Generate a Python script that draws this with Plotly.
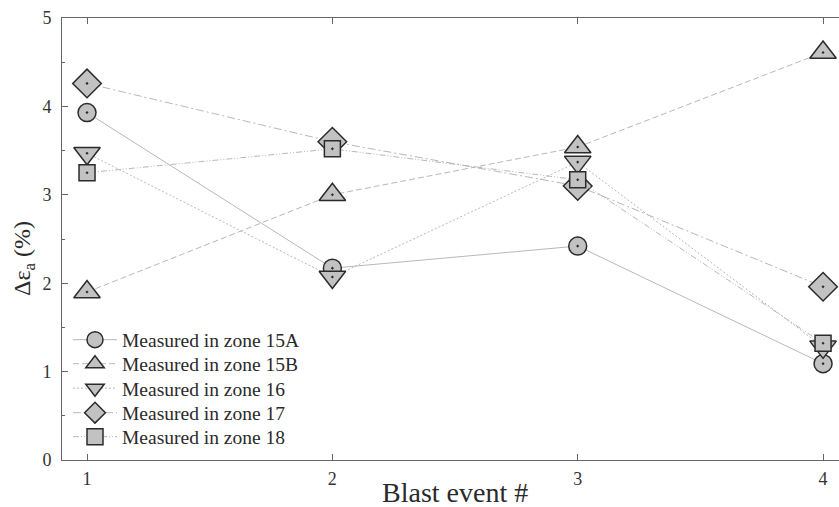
import plotly.graph_objects as go

events = [1, 2, 3, 4]
zone_15A = [3.93, 2.17, 2.42, 1.09]
zone_15B = [1.90, 3.00, 3.54, 4.61]
zone_16 = [3.47, 2.07, 3.37, 1.28]
zone_17 = [4.26, 3.60, 3.10, 1.96]
zone_18 = [3.25, 3.52, 3.17, 1.32]
names = ["Measured in zone 15A", "Measured in zone 15B", "Measured in zone 16",
         "Measured in zone 17", "Measured in zone 18"]
series = [zone_15A, zone_15B, zone_16, zone_17, zone_18]
x_title = "Blast event #"
y_title = "Δε<sub>a</sub> (%)"

symbols = ["circle", "triangle-up", "triangle-down", "diamond", "square"]
sizes = [18, 23, 23, 22, 16]
dashes = ["solid", "6px,3px", "2px,2px", "8px,3px,2px,3px", "6px,2px,1px,2px,1px,2px"]

LINE = "#b8b8b8"
FILL = "#c2c2c2"
EDGE = "#2b2b2b"
AX = "#666666"
FONT = "Liberation Serif"

W, H = 839, 507
L, R, T, B = 62, 0, 18, 47
PW, PH = W - L - R, H - T - B

fig = go.Figure()
for ys, sym, sz, dash in zip(series, symbols, sizes, dashes):
    fig.add_trace(go.Scatter(
        x=events, y=ys, mode="lines+markers", showlegend=False,
        line=dict(color=LINE, width=1, dash=dash),
        marker=dict(symbol=sym + "-dot", size=sz, color=FILL,
                    line=dict(color=EDGE, width=1.5)),
    ))

# legend rows (one legend per row for exact row spacing)
row_px = [340, 364, 388.5, 413, 437]
legend_layout = {}
for i, (name, sym, sz, dash) in enumerate(zip(names, symbols, sizes, dashes)):
    key = "legend" if i == 0 else f"legend{i + 1}"
    fig.add_trace(go.Scatter(
        x=[None], y=[None], mode="lines+markers", name=name, legend=key,
        xaxis="x2",
        line=dict(color=LINE, width=1, dash=dash),
        marker=dict(symbol=sym, size=sz, color=FILL,
                    line=dict(color=EDGE, width=1.5)),
    ))
    legend_layout[key] = dict(
        x=(68 - L) / PW, y=(H - B - row_px[i]) / PH,
        xanchor="left", yanchor="middle",
        bgcolor="rgba(0,0,0,0)", borderwidth=0, itemwidth=44,
        font=dict(family=FONT, size=19.5, color="#2a2a2a"),
    )

fig.update_layout(
    width=W, height=H,
    margin=dict(l=L, r=R, t=T, b=B),
    paper_bgcolor="white", plot_bgcolor="white",
    font=dict(family=FONT, color="#333333", size=18),
    xaxis=dict(range=[0.898, 4.065], tickvals=events, ticks="inside",
               ticklen=6, tickcolor=AX, showline=True, linecolor=AX,
               linewidth=1, showgrid=False, zeroline=False, automargin=False,
               tickfont=dict(size=18), ticklabelstandoff=2),
    xaxis2=dict(matches="x", overlaying="x", side="top", tickvals=events,
                ticks="inside", ticklen=6, tickcolor=AX, showline=True,
                linecolor=AX, linewidth=1, showticklabels=False,
                showgrid=False, zeroline=False, automargin=False),
    yaxis=dict(range=[0, 5], dtick=1, ticks="inside", ticklen=6,
               tickcolor=AX, showline=True, linecolor=AX, linewidth=1,
               showgrid=False, zeroline=False, automargin=False,
               tickfont=dict(size=18), ticklabelstandoff=6,
               minor=dict(dtick=0.5, ticks="inside", ticklen=3, tickcolor=AX)),
    annotations=[
        dict(text=x_title, xref="paper", yref="paper",
             x=(455 - L) / PW, y=(H - B - 476) / PH, xanchor="center",
             yanchor="top", showarrow=False, borderpad=0,
             font=dict(family=FONT, size=28, color="#2a2a2a")),
        dict(text=y_title, xref="paper", yref="paper", textangle=-90,
             x=(24 - L) / PW, y=(H - B - 259) / PH, xanchor="center",
             yanchor="middle", showarrow=False,
             font=dict(family=FONT, size=24, color="#2a2a2a")),
    ],
    **legend_layout,
)

fig.write_html("out.html", config={"displayModeBar": False},
               post_script="document.body.style.margin='0';"
                           "document.body.style.overflow='hidden';")
